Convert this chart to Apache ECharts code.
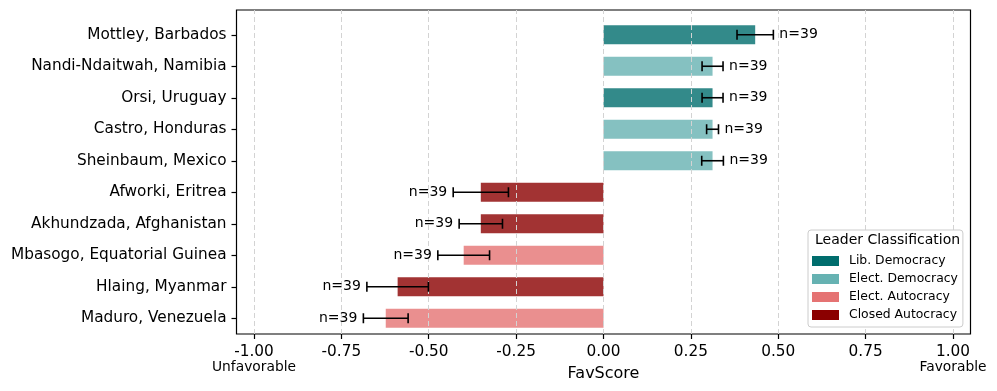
<!DOCTYPE html>
<html>
<head>
<meta charset="utf-8">
<script src="https://cdn.jsdelivr.net/npm/echarts@6/dist/echarts.min.js"></script>
<style>
  html, body { margin: 0; padding: 0; background: #fff; }
  #chart { width: 997px; height: 391px; }
</style>
</head>
<body>
<div id="chart"></div>
<script>
// data
const leaders = [
  'Mottley, Barbados', 'Nandi-Ndaitwah, Namibia', 'Orsi, Uruguay', 'Castro, Honduras',
  'Sheinbaum, Mexico', 'Afworki, Eritrea', 'Akhundzada, Afghanistan',
  'Mbasogo, Equatorial Guinea', 'Hlaing, Myanmar', 'Maduro, Venezuela'
]
const favScore = [0.434, 0.312, 0.312, 0.312, 0.312, -0.351, -0.351, -0.400, -0.589, -0.623]
const favErr = [0.052, 0.030, 0.030, 0.017, 0.031, 0.079, 0.062, 0.074, 0.088, 0.064]
const nResp = [39, 39, 39, 39, 39, 39, 39, 39, 39, 39]
const regime = [
  'Lib. Democracy', 'Elect. Democracy', 'Lib. Democracy', 'Elect. Democracy',
  'Elect. Democracy', 'Closed Autocracy', 'Closed Autocracy', 'Elect. Autocracy',
  'Closed Autocracy', 'Elect. Autocracy'
]
const classes = ['Lib. Democracy', 'Elect. Democracy', 'Elect. Autocracy', 'Closed Autocracy']
const classColors = ['#006d6d', '#66b2b2', '#e57373', '#8b0000']
const xTicks = [-1, -0.75, -0.5, -0.25, 0, 0.25, 0.5, 0.75, 1]

const FONT = 'DejaVu Sans'
const fmt = v => (v < 0 ? '-' : '') + Math.abs(v).toFixed(2)

const chart = echarts.init(document.getElementById('chart'), null, { renderer: 'canvas' })

const barSeries = classes.map((cls, ci) => ({
  name: cls,
  type: 'bar',
  xAxisIndex: 0,
  yAxisIndex: 0,
  barWidth: '60%',
  barGap: '-100%',
  itemStyle: { color: classColors[ci], opacity: 0.8 },
  data: favScore.map((v, i) => (regime[i] === cls ? v : null)),
  z: 3
}))

const errSeries = {
  type: 'custom',
  xAxisIndex: 0,
  yAxisIndex: 0,
  clip: false,
  z: 5,
  encode: { x: [0, 2, 3], y: 1 },
  data: favScore.map((v, i) => [v, i, v - favErr[i], v + favErr[i], nResp[i]]),
  renderItem: (params, api) => {
    const y = api.value(1)
    const lo = api.coord([api.value(2), y])
    const hi = api.coord([api.value(3), y])
    const pos = api.value(0) >= 0
    const cap = 5
    const line = { stroke: '#000', lineWidth: 1.6 }
    return {
      type: 'group',
      children: [
        { type: 'line', shape: { x1: lo[0], y1: lo[1], x2: hi[0], y2: hi[1] }, style: line },
        { type: 'line', shape: { x1: lo[0], y1: lo[1] - cap, x2: lo[0], y2: lo[1] + cap }, style: line },
        { type: 'line', shape: { x1: hi[0], y1: hi[1] - cap, x2: hi[0], y2: hi[1] + cap }, style: line },
        {
          type: 'text',
          style: {
            x: pos ? hi[0] + 6 : lo[0] - 6,
            y: hi[1],
            text: 'n=' + api.value(4),
            align: pos ? 'left' : 'right',
            verticalAlign: 'middle',
            fontFamily: FONT,
            fontSize: 14,
            fill: '#000'
          }
        }
      ]
    }
  }
}

// grid 1 only carries the frame and the dashed vertical gridlines
const gridLines = {
  type: 'line',
  xAxisIndex: 1,
  yAxisIndex: 1,
  data: [],
  silent: true,
  markLine: {
    silent: true,
    symbol: ['none', 'none'],
    label: { show: false },
    lineStyle: { color: '#d3d3d3', type: [5, 3], width: 1 },
    data: xTicks.map(t => ({ xAxis: t }))
  },
  z: 1
}

const option = {
  animation: false,
  textStyle: { fontFamily: FONT },
  grid: [
    { left: 236.5, right: 26.5, top: 19, bottom: 57, containLabel: false, outerBoundsMode: 'none' },
    {
      left: 236.5, right: 26.5, top: 10, bottom: 57, containLabel: false, outerBoundsMode: 'none',
      show: true, borderColor: '#000', borderWidth: 1.2, backgroundColor: 'transparent'
    }
  ],
  xAxis: [
    {
      type: 'value',
      gridIndex: 0,
      min: -1.05,
      max: 1.05,
      name: 'FavScore',
      nameLocation: 'middle',
      nameGap: 32,
      nameMoveOverlap: false,
      nameTextStyle: { fontSize: 16, color: '#000', fontFamily: FONT },
      axisLine: { show: false, onZero: false },
      axisTick: { show: true, length: 5, customValues: xTicks, lineStyle: { color: '#000', width: 1.2 } },
      splitLine: { show: false },
      axisLabel: {
        customValues: xTicks,
        margin: 10,
        color: '#000',
        fontFamily: FONT,
        formatter: v => {
          if (v === -1) return '{a|' + fmt(v) + '}\n{b|Unfavorable}'
          if (v === 1) return '{a|' + fmt(v) + '}\n{b|Favorable}'
          return '{a|' + fmt(v) + '}'
        },
        rich: {
          a: { fontSize: 15.3, lineHeight: 17, color: '#000', fontFamily: FONT },
          b: { fontSize: 13.8, lineHeight: 12, color: '#000', fontFamily: FONT }
        }
      }
    },
    { type: 'value', gridIndex: 1, min: -1.05, max: 1.05, show: false, splitLine: { show: false } }
  ],
  yAxis: [
    {
      type: 'category',
      gridIndex: 0,
      inverse: true,
      data: leaders,
      axisLine: { show: false, onZero: false },
      axisTick: { show: true, length: 5, alignWithLabel: true, lineStyle: { color: '#000', width: 1.2 } },
      axisLabel: { fontSize: 15.3, color: '#000', margin: 10, fontFamily: FONT },
      splitLine: { show: false }
    },
    { type: 'value', gridIndex: 1, min: 0, max: 1, show: false, splitLine: { show: false } }
  ],
  legend: {
    orient: 'vertical',
    left: 808,
    top: 230,
    padding: [24, 5, 5, 4],
    itemGap: 4,
    itemWidth: 27,
    itemHeight: 10,
    icon: 'rect',
    backgroundColor: '#fff',
    borderColor: '#cccccc',
    borderWidth: 1,
    borderRadius: 3,
    textStyle: { fontSize: 12.4, lineHeight: 14, color: '#000', fontFamily: FONT, padding: [0, 0, 0, 5] },
    data: classes.map((c, i) => ({ name: c, itemStyle: { color: classColors[i], opacity: 1 } })),
    z: 10
  },
  title: {
    text: 'Leader Classification',
    left: 815,
    top: 233,
    padding: 0,
    textStyle: { fontSize: 14, fontWeight: 'normal', color: '#000', fontFamily: FONT },
    z: 11
  },
  series: [gridLines, ...barSeries, errSeries]
}

chart.setOption(option)
window.addEventListener('resize', () => chart.resize())
</script>
</body>
</html>
